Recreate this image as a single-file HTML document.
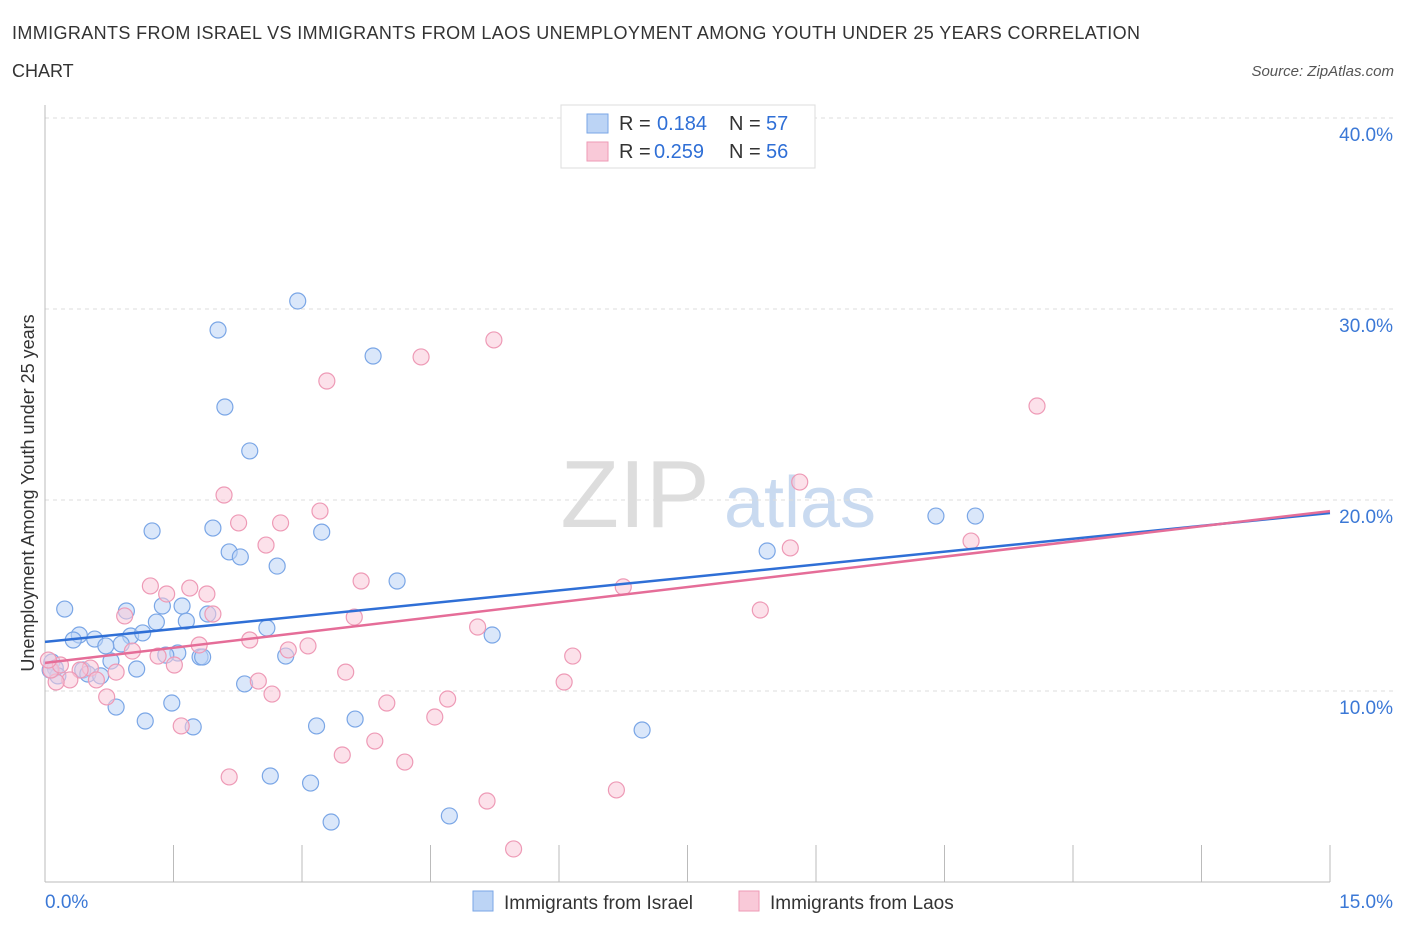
<!DOCTYPE html>
<html><head><meta charset="utf-8"><style>
body{margin:0;background:#fff;font-family:"Liberation Sans",sans-serif;}
svg text{font-family:"Liberation Sans",sans-serif;}
</style></head><body>
<svg id="chart" width="1406" height="930" xmlns="http://www.w3.org/2000/svg">
<text x="12" y="39" font-size="18" fill="#333" textLength="1128" lengthAdjust="spacing">IMMIGRANTS FROM ISRAEL VS IMMIGRANTS FROM LAOS UNEMPLOYMENT AMONG YOUTH UNDER 25 YEARS CORRELATION</text>
<text x="12" y="77" font-size="18" fill="#333">CHART</text>
<text x="1394" y="76" font-size="15" fill="#555" text-anchor="end" font-style="italic">Source: ZipAtlas.com</text>
<g>
<text x="635" y="527" font-size="96" fill="#ddd" text-anchor="middle" font-family="Liberation Serif,serif">ZIP</text>
<text x="800" y="527" font-size="72" fill="#c9daf0" text-anchor="middle">atlas</text>
</g>
<g id="grid"></g>
<g id="axes"></g>
<g id="marks"></g>
<text transform="translate(34,493) rotate(-90)" font-size="18" fill="#333" text-anchor="middle">Unemployment Among Youth under 25 years</text>
<g>
<rect x="561" y="105" width="254" height="63" fill="#fff" stroke="#ddd"/>
<rect x="587" y="114" width="21" height="19" fill="#bcd4f5" stroke="#7aa6e6"/>
<rect x="587" y="142" width="21" height="19" fill="#f9c9d8" stroke="#ee9ab6"/>
<text x="619" y="130" font-size="20" fill="#333">R =</text>
<text x="657" y="130" font-size="20" fill="#2f6fd6">0.184</text>
<text x="729" y="130" font-size="20" fill="#333">N =</text>
<text x="766" y="130" font-size="20" fill="#2f6fd6">57</text>
<text x="619" y="158" font-size="20" fill="#333">R =</text>
<text x="654" y="158" font-size="20" fill="#2f6fd6">0.259</text>
<text x="729" y="158" font-size="20" fill="#333">N =</text>
<text x="766" y="158" font-size="20" fill="#2f6fd6">56</text>
</g>
<g>
<rect x="473" y="891" width="20" height="20" fill="#bcd4f5" stroke="#7aa6e6"/>
<text x="504" y="909" font-size="19" fill="#333">Immigrants from Israel</text>
<rect x="739" y="891" width="20" height="20" fill="#f9c9d8" stroke="#ee9ab6"/>
<text x="770" y="909" font-size="19" fill="#333">Immigrants from Laos</text>
</g>
</svg>
<script>
const yTicks=[10,20,30,40];
const yTickLabels=["10.0%","20.0%","30.0%","40.0%"];
const xTicks=[0,1.5,3,4.5,6,7.5,9,10.5,12,13.5,15];
const israelX=[2.95,2.02,3.83,2.10,2.39,1.25,1.96,3.23,2.15,2.28,2.71,4.11,10.40,10.86,8.43,0.23,0.95,1.37,1.60,1.90,1.30,1.65,0.40,0.33,0.58,1.00,1.14,0.89,0.71,2.59,5.22,1.55,1.41,1.81,1.84,2.81,0.77,0.08,0.12,0.44,1.07,0.50,0.65,0.15,2.33,0.83,1.48,1.17,1.73,3.17,3.62,6.97,2.63,3.10,3.34,4.72,0.06];
const israelY=[30.42,28.90,27.54,24.87,22.57,18.38,18.53,18.32,17.28,17.02,16.54,15.76,19.16,19.16,17.33,14.29,14.19,14.45,14.45,14.03,13.61,13.66,12.93,12.67,12.72,12.88,13.04,12.46,12.36,13.30,12.93,11.99,11.88,11.78,11.78,11.83,11.57,11.52,11.20,11.10,11.15,10.89,10.79,10.79,10.37,9.16,9.37,8.43,8.12,8.17,8.53,7.96,5.55,5.18,3.14,3.46,11.10];
const laosX=[5.24,4.39,3.29,11.58,8.81,2.09,3.21,2.26,2.75,2.58,8.70,10.81,1.23,1.69,3.69,1.42,1.89,6.75,8.35,0.93,1.96,3.61,5.05,2.39,3.07,1.80,1.02,1.32,1.51,2.84,6.16,3.51,0.83,0.53,0.41,0.29,0.13,0.07,2.49,6.06,2.65,0.72,3.99,4.70,4.55,1.59,3.85,3.47,4.20,2.15,6.67,5.16,5.47,0.60,0.18,0.04];
const laosY=[28.38,27.49,26.23,24.92,20.94,20.26,19.42,18.80,18.80,17.64,17.49,17.85,15.50,15.39,15.76,15.08,15.08,15.45,14.24,13.93,14.03,13.87,13.35,12.67,12.36,12.41,12.09,11.83,11.36,12.15,11.83,10.99,10.99,11.20,11.10,10.58,10.47,11.10,10.52,10.47,9.84,9.69,9.37,9.58,8.64,8.17,7.38,6.65,6.28,5.50,4.82,4.24,1.73,10.58,11.36,11.62];
const trendX=[0,15];
const israelTrend=[12.57,19.32];
const laosTrend=[11.47,19.42];
const NS="http://www.w3.org/2000/svg";
const X0=45,X1=1330,Y0=882,YPER=19.1;
function xs(v){return X0+(v/15)*(X1-X0);}
function ys(v){return Y0-v*YPER;}
function mk(tag,attrs,parent){const e=document.createElementNS(NS,tag);for(const k in attrs)e.setAttribute(k,attrs[k]);document.getElementById(parent).appendChild(e);return e;}
yTicks.forEach((t,i)=>{
 const g=mk('line',{x1:X0,x2:1394,y1:ys(t),y2:ys(t),stroke:'#ddd','stroke-dasharray':'4,4'},'grid');
 
 
 const l=mk('text',{x:1393,y:ys(t)+23,'font-size':19,fill:'#3b78d6','text-anchor':'end'},'grid');
 l.textContent=yTickLabels[i];
 
 
});
const ax=mk('line',{x1:X0,x2:X0,y1:105,y2:Y0,stroke:'#bbb'},'axes');


const bx=mk('line',{x1:X0,x2:X1,y1:Y0,y2:Y0,stroke:'#bbb'},'axes');


xTicks.forEach(t=>{
 const tk=mk('line',{x1:xs(t),x2:xs(t),y1:845,y2:Y0,stroke:'#bbb'},'axes');
 
 
});
const xl0=mk('text',{x:45,y:908,'font-size':19,fill:'#3b78d6'},'axes');xl0.textContent='0.0%';


const xl1=mk('text',{x:1393,y:908,'font-size':19,fill:'#3b78d6','text-anchor':'end'},'axes');xl1.textContent='15.0%';


function pts(X,Y,fill,stroke,name){
 X.forEach((x,i)=>{
  const c=mk('circle',{cx:xs(x),cy:ys(Y[i]),r:8,fill:fill,'fill-opacity':0.55,stroke:stroke,'stroke-width':1.2},'marks');
  
  
 });
}
pts(israelX,israelY,'#bcd4f5','#7aa6e6','israel-point');
pts(laosX,laosY,'#f9c9d8','#ee9ab6','laos-point');
const t1=mk('line',{x1:xs(trendX[0]),y1:ys(israelTrend[0]),x2:xs(trendX[1]),y2:ys(israelTrend[1]),stroke:'#2f6fd6','stroke-width':2.5},'marks');


const t2=mk('line',{x1:xs(trendX[0]),y1:ys(laosTrend[0]),x2:xs(trendX[1]),y2:ys(laosTrend[1]),stroke:'#e56d98','stroke-width':2.5},'marks');


</script>
</body></html>
